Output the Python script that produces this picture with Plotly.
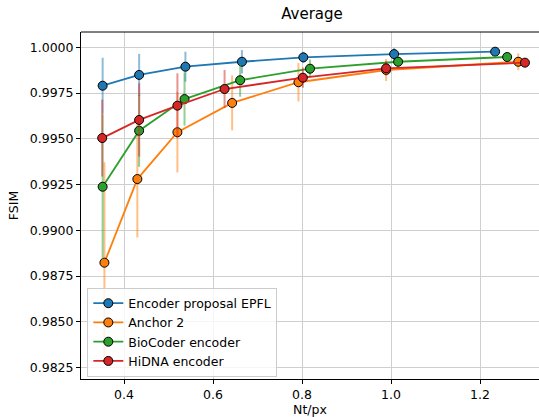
import plotly.graph_objects as go

# ---- data ----
epfl_x = [0.352, 0.434, 0.538, 0.665, 0.803, 1.007, 1.234]
epfl_y = [0.99790, 0.99849, 0.99894, 0.99921, 0.99945, 0.99963, 0.99976]
epfl_err = [0.00153, 0.00115, 0.00082, 0.00064, 0.00030, 0.00033, 0.00010]

anchor_x = [0.356, 0.430, 0.520, 0.643, 0.792, 0.989, 1.286]
anchor_y = [0.98823, 0.99280, 0.99536, 0.99696, 0.99809, 0.99876, 0.99921]
anchor_err = [0.00549, 0.00319, 0.00220, 0.00150, 0.00105, 0.00060, 0.00046]

bio_x = [0.352, 0.434, 0.536, 0.661, 0.818, 1.016, 1.261]
bio_y = [0.99238, 0.99544, 0.99717, 0.99820, 0.99883, 0.99921, 0.99947]
bio_err = [0.00396, 0.00197, 0.00145, 0.00090, 0.00050, 0.00030, 0.00020]

hidna_x = [0.351, 0.434, 0.520, 0.626, 0.802, 0.989, 1.301]
hidna_y = [0.99504, 0.99603, 0.99681, 0.99772, 0.99834, 0.99885, 0.99916]
hidna_err = [0.00210, 0.00200, 0.00177, 0.00104, 0.00055, 0.00040, 0.00020]

names = ["Encoder proposal EPFL", "Anchor 2", "BioCoder encoder", "HiDNA encoder"]
colors = ["#1f77b4", "#ff7f0e", "#2ca02c", "#d62728"]
err_colors = ["rgba(31,119,180,0.5)", "rgba(255,127,14,0.5)",
              "rgba(44,160,44,0.5)", "rgba(214,39,40,0.5)"]

x_ticks = [0.4, 0.6, 0.8, 1.0, 1.2]
y_ticks = [0.9825, 0.9850, 0.9875, 0.9900, 0.9925, 0.9950, 0.9975, 1.0000]

series = [(epfl_x, epfl_y, epfl_err), (anchor_x, anchor_y, anchor_err),
          (bio_x, bio_y, bio_err), (hidna_x, hidna_y, hidna_err)]

FONT = "DejaVu Sans"
fig = go.Figure()
for (xs, ys, es), name, c, ec in zip(series, names, colors, err_colors):
    fig.add_trace(go.Scatter(
        x=xs, y=ys, name=name, mode="lines+markers",
        line=dict(color=c, width=1.8),
        marker=dict(size=9, color=c, line=dict(color="black", width=1)),
        error_y=dict(type="data", array=es, visible=True, color=ec,
                     thickness=2, width=0),
    ))

W, H = 539, 417
L, R, T, B = 81, 0, 32, 38
fig.update_layout(
    width=W, height=H,
    margin=dict(l=L, r=R, t=T, b=B, autoexpand=False),
    paper_bgcolor="white", plot_bgcolor="white",
    font=dict(family=FONT, size=12.5, color="black"),
    title=dict(text="Average", x=(312 - L) / (W - L - R), xref="paper",
               xanchor="center", y=1 - 14 / H, yref="container",
               yanchor="middle", font=dict(size=15, family=FONT)),
    showlegend=True,
    legend=dict(x=0.0138, y=0.007, xanchor="left", yanchor="bottom",
                bgcolor="rgba(255,255,255,0.8)", bordercolor="#cccccc",
                borderwidth=1, font=dict(size=12.5, family=FONT),
                tracegroupgap=0),
    xaxis=dict(range=[0.30337, 1.33258], tickvals=x_ticks,
               ticktext=[f"{v:.1f}" for v in x_ticks],
               showgrid=True, gridcolor="#cfcfcf", gridwidth=1,
               zeroline=False, showline=True, linecolor="black", linewidth=1,
               ticks="outside", ticklen=4, tickcolor="black",
               automargin=False,
               title=dict(text="Nt/px", standoff=6, font=dict(size=12.5))),
    yaxis=dict(range=[0.981874, 1.000836], tickvals=y_ticks,
               ticktext=[f"{v:.4f}" for v in y_ticks],
               showgrid=True, gridcolor="#cfcfcf", gridwidth=1,
               zeroline=False, showline=True, linecolor="black", linewidth=1,
               ticks="outside", ticklen=4, tickcolor="black",
               automargin=False,
               title=dict(text="FSIM", standoff=8, font=dict(size=12.5))),
    shapes=[dict(type="line", xref="paper", yref="paper", x0=0, x1=1.01,
                 y0=1, y1=1, line=dict(color="black", width=1))],
)

fig.write_html("out.html",
               config={"displayModeBar": False},
               post_script="document.body.style.margin='0';"
                           "document.body.style.overflow='hidden';")
